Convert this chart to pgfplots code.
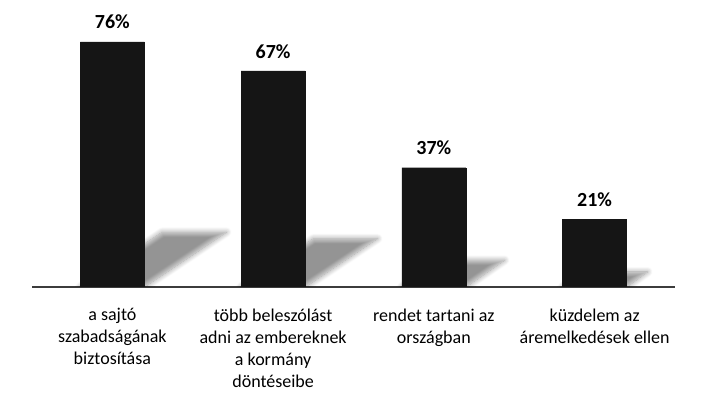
\documentclass[border=0pt]{standalone}
\usepackage{fontspec}
\setmainfont{Carlito}
\usepackage{pgfplots}
\pgfplotsset{compat=1.18}
\usetikzlibrary{shadows.blur}

\definecolor{barblack}{RGB}{21,21,21}
\definecolor{axisgray}{RGB}{60,60,60}

% shadow polygons (behind each bar, sheared to the upper right)
\pgfplotsset{
  shadowlayer/.style={draw=none, fill=none, forget plot,
    blur shadow={shadow xshift=0bp, shadow yshift=0bp,
      shadow blur radius=5bp, shadow blur steps=10, shadow opacity=42}},
}

\begin{document}
\begin{tikzpicture}
\path[use as bounding box] (0,0) rectangle (709bp,412bp);
\begin{axis}[
    at={(32bp,125bp)}, anchor=south west,
    scale only axis,
    width=643bp, height=283.7bp,
    xmin=-0.5, xmax=3.5,
    ymin=0, ymax=88,
    axis x line=bottom,
    axis y line=none,
    axis line style={axisgray, line width=1.4bp, -},
    xtick={0,1,2,3},
    xticklabels={
      {a sajtó\\szabadságának\\biztosítása},
      {több beleszólást\\adni az embereknek\\a kormány\\döntéseibe},
      {rendet tartani az\\országban},
      {küzdelem az\\áremelkedések ellen}},
    major tick length=0pt,
    xticklabel style={font=\fontsize{18bp}{22bp}\selectfont, align=center,
      anchor=north, yshift=-18bp},
    ytick=\empty,
]
% shadows
\addplot[shadowlayer] coordinates {(-0.2,0) (0.2,0) (0.71,17) (0.31,17)} -- cycle;
\addplot[shadowlayer] coordinates {(0.8,0) (1.2,0) (1.65,15) (1.25,15)} -- cycle;
\addplot[shadowlayer] coordinates {(1.8,0) (2.2,0) (2.44,8.3) (2.04,8.3)} -- cycle;
\addplot[shadowlayer] coordinates {(2.8,0) (3.2,0) (3.33,4.7) (2.93,4.7)} -- cycle;

% bars
\addplot[ybar, bar width=64bp, fill=barblack, draw=barblack,
    point meta=explicit symbolic,
    nodes near coords={\fontsize{20bp}{22bp}\selectfont\bfseries\pgfplotspointmeta},
    every node near coord/.append style={anchor=base, yshift=13bp,
      inner sep=0pt, black}]
  coordinates {(0,76) [76\%] (1,67) [67\%] (2,37) [37\%] (3,21) [21\%]};
\end{axis}
\end{tikzpicture}
\end{document}
